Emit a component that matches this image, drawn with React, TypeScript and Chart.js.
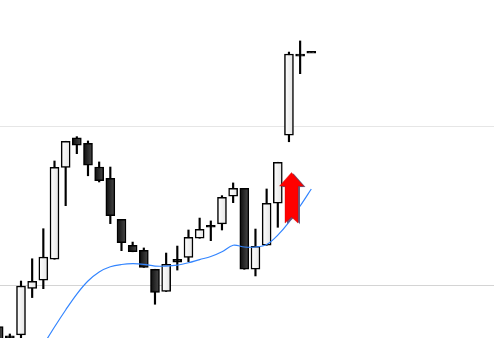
import { useEffect, useRef } from 'react';
import { Chart, registerables } from 'chart.js';

Chart.register(...registerables);

// Candle data (index, open, high, low, close)
const candleIndex = [0, 1, 2, 3, 4, 5, 6, 7, 8, 9, 10, 11, 12, 13, 14, 15, 16, 17, 18, 19, 20, 21, 22, 23, 24, 25, 26, 27, 28];
const opens = [97.38, 96.68, 96.86, 99.78, 100.3, 101.62, 107.4, 109.25, 108.91, 107.42, 106.71, 104.13, 102.5, 102.18, 100.99, 99.59, 101.43, 101.74, 102.94, 103.63, 103.84, 105.58, 106.08, 100.99, 102.5, 105.14, 109.42, 114.4, 114.58];
const highs = [97.6, 96.92, 100.25, 101.65, 103.54, 107.8, 109.04, 109.33, 109.06, 107.74, 107.42, 104.13, 102.7, 102.33, 100.99, 102.01, 102.45, 103.46, 104.21, 104.03, 105.62, 106.42, 106.08, 103.52, 106.04, 107.72, 114.65, 115.35, 114.63];
const lows = [95.8, 96.5, 96.54, 99.21, 99.77, 101.62, 104.99, 108.26, 106.87, 106.48, 103.86, 102.16, 102.09, 101.11, 98.79, 99.59, 100.94, 101.47, 102.94, 102.79, 103.46, 105.18, 100.99, 100.57, 102.5, 103.63, 109.01, 113.29, 114.63];
const closes = [96.0, 96.8, 99.94, 100.23, 101.76, 107.4, 109.04, 108.79, 107.53, 106.56, 104.36, 102.66, 102.09, 101.11, 99.54, 101.3, 101.62, 103.0, 103.5, 103.75, 105.52, 106.08, 100.99, 102.43, 105.14, 107.72, 114.53, 114.52, 114.7];

// Moving average (starts at index 4)
const maIndex = [4, 5, 6, 7, 8, 9, 10, 11, 12, 13, 14, 15, 16, 17, 18, 19, 20, 21, 22, 23, 24, 25, 26, 27, 28];
const maValues = [96.23, 97.36, 98.43, 99.43, 100.25, 100.82, 101.15, 101.29, 101.34, 101.3, 101.19, 101.19, 101.25, 101.4, 101.6, 101.79, 102.09, 102.5, 102.39, 102.39, 102.55, 103.14, 103.96, 104.97, 106.04];

// Buy signal marker
const signalIndex = [26.27];
const signalValue = [105.47];

// Grid tick values
const gridTicks = [100, 110];

function makeArrow(): HTMLCanvasElement {
  const c = document.createElement('canvas');
  c.width = 30;
  c.height = 56;
  const g = c.getContext('2d')!;
  const pts: [number, number][] = [
    [14.5, 2.5], [26.5, 16], [21, 16], [21, 53], [14.5, 47], [8, 53], [8, 16], [2.5, 16],
  ];
  const draw = (dx: number, dy: number, color: string) => {
    g.beginPath();
    pts.forEach(([x, y], i) => (i === 0 ? g.moveTo(x + dx, y + dy) : g.lineTo(x + dx, y + dy)));
    g.closePath();
    g.fillStyle = color;
    g.fill();
  };
  draw(2, 1, '#6a5a7c');
  draw(0, 0, '#ff0000');
  g.strokeStyle = 'rgba(200,0,0,0.6)';
  g.lineWidth = 0.6;
  g.beginPath();
  pts.forEach(([x, y], i) => (i === 0 ? g.moveTo(x, y) : g.lineTo(x, y)));
  g.closePath();
  g.stroke();
  return c;
}

export default function App() {
  const ref = useRef<HTMLCanvasElement>(null);
  useEffect(() => {
    document.body.style.margin = '0';
    const bodies = candleIndex.map((x, i) => ({ x, y: [opens[i], closes[i]] }));
    const wicks = candleIndex.map((x, i) => ({ x, y: [lows[i], highs[i]] }));
    const ma = maIndex.map((x, i) => ({ x, y: maValues[i] }));
    const signal = signalIndex.map((x, i) => ({ x, y: signalValue[i] }));

    const bodyFill = (ctx: any) => {
      if (ctx.type !== 'data') return '#fff';
      const i = ctx.dataIndex;
      if (Math.abs(closes[i] - opens[i]) < 0.2) return '#000';
      const bull = closes[i] >= opens[i];
      const flat = bull ? '#f4f4f4' : '#222';
      const xs = ctx.chart.scales && ctx.chart.scales.x;
      if (!xs || !ctx.chart.chartArea) return flat;
      const px = xs.getPixelForValue(candleIndex[i]);
      if (!Number.isFinite(px)) return flat;
      const gr = ctx.chart.ctx.createLinearGradient(px - 4.5, 0, px + 4.5, 0);
      if (bull) {
        gr.addColorStop(0, '#ffffff');
        gr.addColorStop(1, '#e4e4e4');
      } else {
        gr.addColorStop(0, '#0c0c0c');
        gr.addColorStop(1, '#4a4a4a');
      }
      return gr;
    };

    const chart = new Chart(ref.current!, {
      type: 'bar',
      data: {
        datasets: [
          {
            type: 'scatter',
            data: signal,
            pointStyle: makeArrow() as any,
            pointRadius: 10,
            order: -1,
          } as any,
          {
            type: 'line',
            data: ma,
            borderColor: '#3385ff',
            borderWidth: 1.2,
            pointRadius: 0,
            tension: 0.35,
            fill: false,
            order: 0,
          } as any,
          {
            type: 'bar',
            data: bodies,
            backgroundColor: bodyFill,
            borderColor: '#000',
            borderWidth: 1.5,
            borderSkipped: false,
            barThickness: 9,
            grouped: false,
            order: 1,
          } as any,
          {
            type: 'bar',
            data: wicks,
            backgroundColor: '#000',
            borderWidth: 0,
            barThickness: 1.5,
            grouped: false,
            order: 2,
          } as any,
        ],
      },
      options: {
        responsive: false,
        animation: false,
        events: [],
        layout: { padding: 0, autoPadding: false },
        plugins: { legend: { display: false }, tooltip: { enabled: false } },
        scales: {
          x: {
            type: 'linear',
            min: 0.119,
            max: 44.364,
            offset: false,
            display: false,
          },
          y: {
            type: 'linear',
            min: 96.667,
            max: 117.925,
            beginAtZero: false,
            afterBuildTicks: (scale: any) => {
              scale.ticks = gridTicks.map((v) => ({ value: v }));
            },
            ticks: { display: false },
            border: { display: false },
            grid: {
              drawTicks: false,
              lineWidth: 1,
              color: (c: any) => (c.tick && c.tick.value === 100 ? '#d4d4d4' : '#e6e6e6'),
            },
          },
        },
      } as any,
    });
    return () => chart.destroy();
  }, []);
  return (
    <div style={{ width: 494, height: 338, background: '#fff' }}>
      <canvas ref={ref} width={494} height={338} style={{ display: 'block' }} />
    </div>
  );
}
